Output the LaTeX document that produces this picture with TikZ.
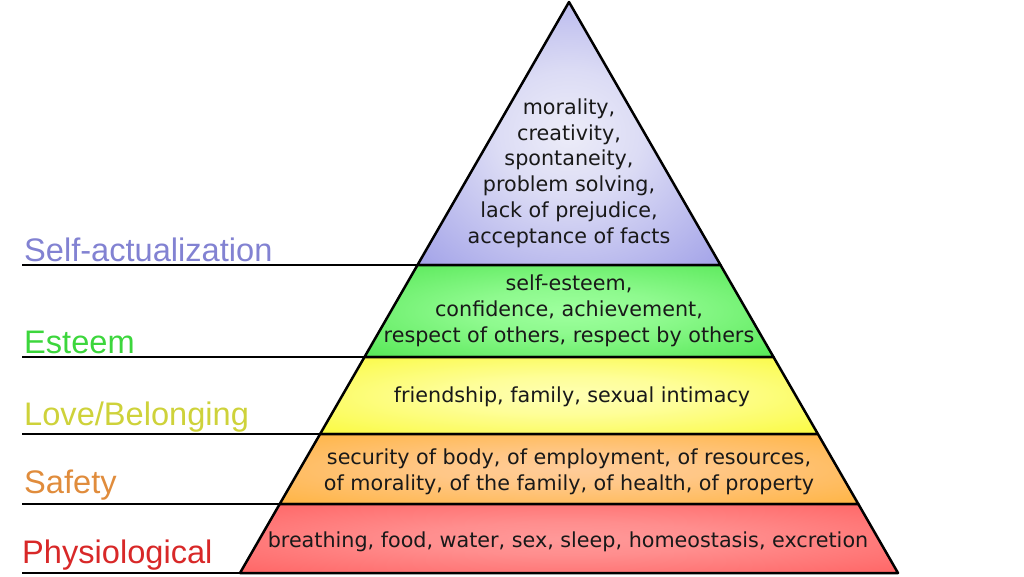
\documentclass[tikz,border=0pt]{standalone}
\usepackage{fontspec}
\setmainfont{DejaVu Sans}
\newfontfamily\labelfont{Liberation Sans}
\colorlet{glowin}{white}
\colorlet{glowout}{black}
\pgfdeclareradialshading[glowin,glowout]{glow}{\pgfpoint{0bp}{0bp}}{color(0bp)=(glowin); color(12bp)=(glowin!85!glowout); color(50bp)=(glowout)}
\definecolor{selfcol}{HTML}{8282D2}
\definecolor{esteemcol}{HTML}{3CD63C}
\definecolor{lovecol}{HTML}{CED23A}
\definecolor{safetycol}{HTML}{E08C3C}
\definecolor{physiocol}{HTML}{D82828}
\begin{document}
\begin{tikzpicture}[x=1pt,y=-1pt,
  glowcol/.code 2 args={\colorlet{glowin}{#1}\colorlet{glowout}{#2}},
  tier/.style 2 args={shade, shading=glow, glowcol={#1}{#2}, draw=black, line width=2.5pt, line join=round},
  rule/.style={draw=black, line width=2.5pt},
  need/.style={font=\labelfont\fontsize{32.6}{38}\selectfont, anchor=base west, inner sep=0pt},
  detail/.style={font=\fontsize{20.7}{25.8}\selectfont, align=center, text=black!90, inner sep=0pt}]
\useasboundingbox (0,0) rectangle (1024,576);

% pyramid corners, level by level
\coordinate (apex) at (569,2);
\coordinate (l1) at (417.5,265); \coordinate (r1) at (720.5,265);
\coordinate (l2) at (364.5,357); \coordinate (r2) at (773.5,357);
\coordinate (l3) at (320.1,434); \coordinate (r3) at (817.9,434);
\coordinate (l4) at (279.7,504); \coordinate (r4) at (858.3,504);
\coordinate (l5) at (240,573);   \coordinate (r5) at (898,573);

\path[tier={white!85!selfcol}{selfcol!80!blue!85!white}] (apex) -- (r1) -- (l1) -- cycle;
\path[tier={green!38!white}{esteemcol!85!green}] (l1) -- (r1) -- (r2) -- (l2) -- cycle;
\path[tier={yellow!30!white}{yellow!85!lovecol}] (l2) -- (r2) -- (r3) -- (l3) -- cycle;
\path[tier={orange!40!white}{orange!75!yellow!90!white}] (l3) -- (r3) -- (r4) -- (l4) -- cycle;
\path[tier={red!40!white}{red!70!white}] (l4) -- (r4) -- (r5) -- (l5) -- cycle;

% guide lines out to the left
\coordinate (g1) at (22,265);
\coordinate (g2) at (22,357);
\coordinate (g3) at (22,434);
\coordinate (g4) at (22,504);
\coordinate (g5) at (22,573);
\draw[rule] (g1) -- (l1);
\draw[rule] (g2) -- (l2);
\draw[rule] (g3) -- (l3);
\draw[rule] (g4) -- (l4);
\draw[rule] (g5) -- (l5);

\node[need, text=selfcol] (selfact) at (24,261) {Self-actualization};
\node[need, text=esteemcol] (esteem) at (24,353) {Esteem};
\node[need, text=lovecol] (love) at (24,425) {Love/Belonging};
\node[need, text=safetycol] (safety) at (24,493) {Safety};
\node[need, text=physiocol] (physio) at (22,563) {Physiological};

\node[detail] (selftxt) at (569,173) {morality,\\creativity,\\spontaneity,\\problem solving,\\lack of prejudice,\\acceptance of facts};
\node[detail] (esteemtxt) at (569,311) {self-esteem,\\confidence, achievement,\\respect of others, respect by others};
\node[detail] (lovetxt) at (572,397) {friendship, family, sexual intimacy};
\node[detail] (safetytxt) at (569,472) {security of body, of employment, of resources,\\of morality, of the family, of health, of property};
\node[detail] (physiotxt) at (568,542) {breathing, food, water, sex, sleep, homeostasis, excretion};
\end{tikzpicture}
\end{document}
